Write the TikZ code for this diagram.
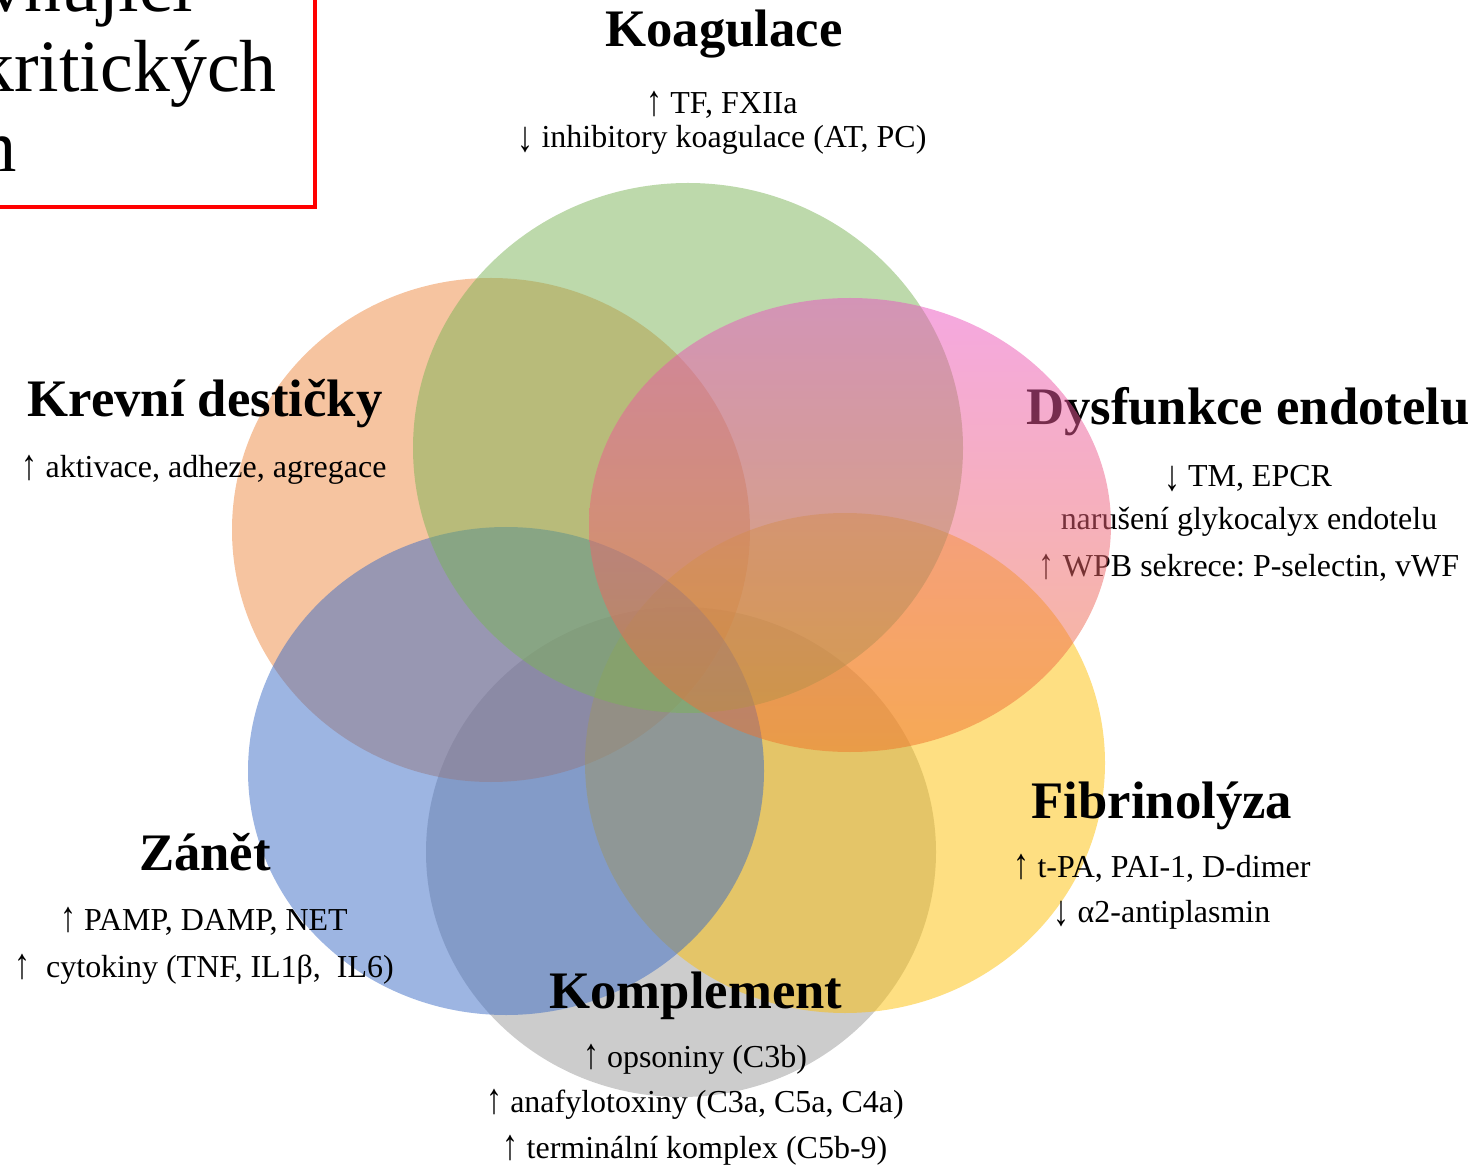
\documentclass[tikz,border=0pt]{standalone}
\usepackage{fontspec}
\setmainfont{Liberation Serif}
\frenchspacing

\definecolor{koagcol}{RGB}{123,179,87}
\definecolor{destcol}{RGB}{237,137,65}
\definecolor{endotop}{RGB}{235,81,195}
\definecolor{endobot}{RGB}{239,115,41}
\definecolor{fibrcol}{RGB}{253,191,5}
\definecolor{zanecol}{RGB}{59,107,197}
\definecolor{komplcol}{RGB}{153,153,153}

\newcommand{\uparr}{\raisebox{-0.04em}{\scalebox{1}[1.35]{↑}}}
\newcommand{\downarr}{\raisebox{-0.12em}{\scalebox{1}[1.35]{↓}}}

\tikzset{
  blob/.style={fill opacity=0.5},
  headline/.style={font=\bfseries\fontsize{30}{36}\selectfont, anchor=base},
  bodyline/.style={font=\fontsize{18.2}{22}\selectfont, anchor=base},
  boxline/.style={font=\fontsize{42}{50}\selectfont, anchor=base east, inner sep=0pt},
}

\begin{document}
\begin{tikzpicture}[x=0.02cm,y=-0.02cm]
    \useasboundingbox (0,0) rectangle (1481,1165);
    \clip (0,0) rectangle (1481,1165);

    % box in the corner, mostly off the page
    \draw[red, line width=2.8pt] (-60,-60) rectangle (315,207);
    \node[boxline] (box1) at (193,12) {Faktory ovlivňující};
    \node[boxline] (box2) at (277,92) {u kritických};
    \node[boxline] (box3) at (17,172) {pacientům};

    % text that sits under the pink circle
    \node[headline] (endo) at (1248,425) {Dysfunkce endotelu};
    \node[bodyline] (endo1) at (1248,487) {\downarr{} TM, EPCR};
    \node[bodyline] (endo2) at (1249,530) {narušení glykocalyx endotelu};
    \node[bodyline] (endo3) at (1249,577) {\uparr{} WPB sekrece: P-selectin, vWF};

    % circles
    \fill[blob, fill=komplcol] (681,852) ellipse (255 and 245);
    \fill[blob, fill=destcol] (491,530) ellipse (259 and 252);
    \fill[blob, fill=fibrcol] (845,763) ellipse (260 and 250);
    \fill[blob, fill=zanecol] (506,771) ellipse (258 and 244);
    \fill[blob, fill=koagcol] (688,448) ellipse (275 and 265);
    \shade[blob, top color=endotop, bottom color=endobot] (850,525) ellipse (261 and 227);

    % labels
    \node[headline] (koag) at (724,47) {Koagulace};
    \node[bodyline] (koag1) at (722,114) {\uparr{} TF, FXIIa};
    \node[bodyline] (koag2) at (722,148) {\downarr{} inhibitory koagulace (AT, PC)};

    \node[headline] (dest) at (205,417) {Krevní destičky};
    \node[bodyline] (dest1) at (204,478) {\uparr{} aktivace, adheze, agregace};

    \node[headline] (fibr) at (1162,818) {Fibrinolýza};
    \node[bodyline] (fibr1) at (1162,877) {\uparr{} t-PA, PAI-1, D-dimer};
    \node[bodyline] (fibr2) at (1162,922) {\downarr{} α2-antiplasmin};

    \node[headline] (zane) at (205,870) {Zánět};
    \node[bodyline] (zane1) at (204,930) {\uparr{} PAMP, DAMP, NET};
    \node[bodyline] (zane2) at (204,977) {\uparr\ \ cytokiny (TNF, IL1β,\ \ IL6)};

    \node[headline] (kompl) at (696,1008) {Komplement};
    \node[bodyline] (kompl1) at (695,1067) {\uparr{} opsoniny (C3b)};
    \node[bodyline] (kompl2) at (695,1112) {\uparr{} anafylotoxiny (C3a, C5a, C4a)};
    \node[bodyline] (kompl3) at (695,1158) {\uparr{} terminální komplex (C5b-9)};
\end{tikzpicture}
\end{document}
